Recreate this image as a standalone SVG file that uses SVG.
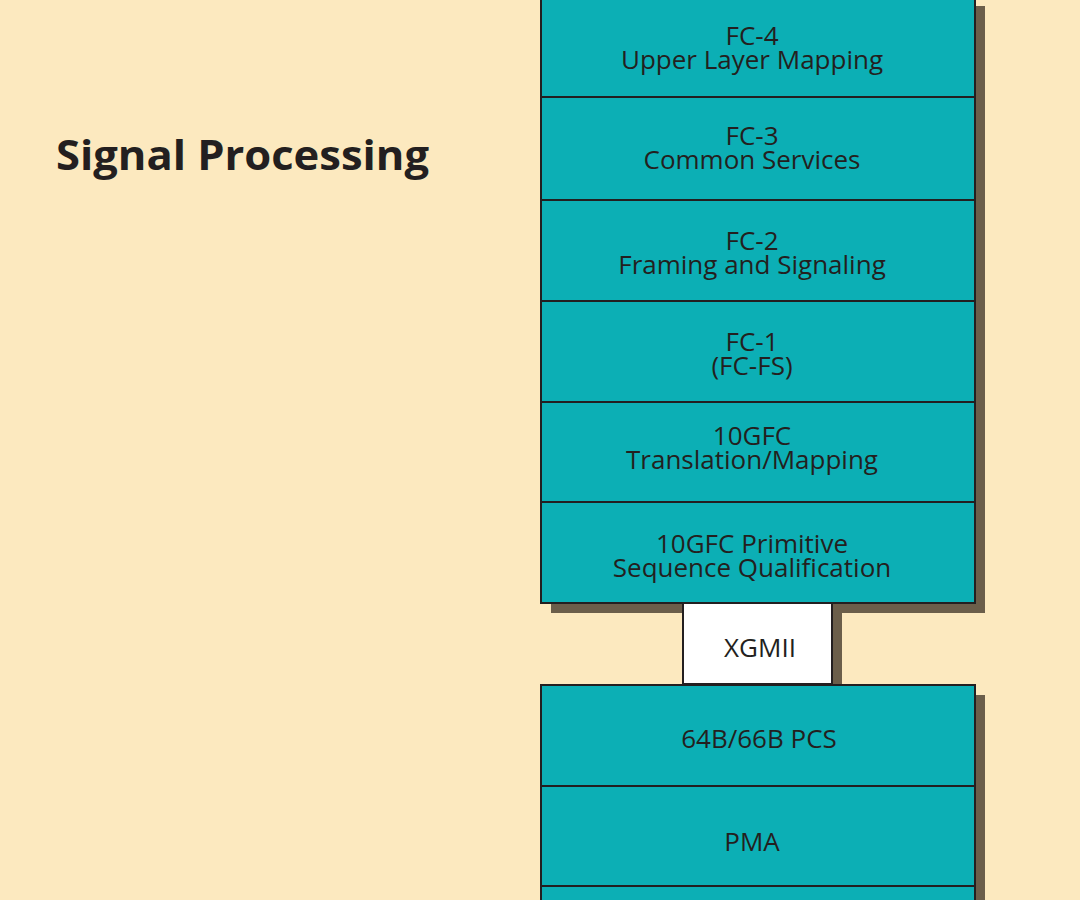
<svg xmlns="http://www.w3.org/2000/svg" width="1080" height="900" viewBox="0 0 1080 900">
<style>
.bg{fill:#fce9bf}
.sh{fill:#6b5e4a}
.box{fill:#0cafb5;stroke:#231f20;stroke-width:2}
.wb{fill:#ffffff;stroke:#231f20;stroke-width:2}
.t{font-family:"Open Sans","Noto Sans",sans-serif;font-size:26px;fill:#231f20;text-anchor:middle}
.title{font-family:"Open Sans","Noto Sans",sans-serif;font-size:42px;font-weight:bold;fill:#231f20}
</style>
<rect class="bg" x="0" y="0" width="1080" height="900"/>
<text class="title" x="56" y="170" textLength="373" lengthAdjust="spacingAndGlyphs">Signal Processing</text>
<g id="shadows">
<rect class="sh" x="551" y="6" width="434" height="607"/>
<rect class="sh" x="693" y="613" width="149" height="81"/>
<rect class="sh" x="551" y="695" width="434" height="215"/>
</g>
<g id="fc4"><rect class="box" x="541" y="-4" width="434" height="101"/><text class="t" x="752" y="45">FC-4</text><text class="t" x="752" y="69">Upper Layer Mapping</text></g>
<g id="fc3"><rect class="box" x="541" y="97" width="434" height="103"/><text class="t" x="752" y="145">FC-3</text><text class="t" x="752" y="169">Common Services</text></g>
<g id="fc2"><rect class="box" x="541" y="200" width="434" height="101"/><text class="t" x="752" y="250">FC-2</text><text class="t" x="752" y="274">Framing and Signaling</text></g>
<g id="fc1"><rect class="box" x="541" y="301" width="434" height="101"/><text class="t" x="752" y="351">FC-1</text><text class="t" x="752" y="375">(FC-FS)</text></g>
<g id="translation"><rect class="box" x="541" y="402" width="434" height="100"/><text class="t" x="752" y="445">10GFC</text><text class="t" x="752" y="469">Translation/Mapping</text></g>
<g id="primitive"><rect class="box" x="541" y="502" width="434" height="101"/><text class="t" x="752" y="553">10GFC Primitive</text><text class="t" x="752" y="577">Sequence Qualification</text></g>
<g id="xgmii"><rect class="wb" x="683" y="603" width="149" height="81"/><text class="t" x="760" y="657">XGMII</text></g>
<g id="pcs"><rect class="box" x="541" y="685" width="434" height="101"/><text class="t" x="759" y="748">64B/66B PCS</text></g>
<g id="pma"><rect class="box" x="541" y="786" width="434" height="100"/><text class="t" x="752" y="851">PMA</text></g>
<g id="pmd"><rect class="box" x="541" y="886" width="434" height="30"/></g>
<g id="connectors"></g>
</svg>
